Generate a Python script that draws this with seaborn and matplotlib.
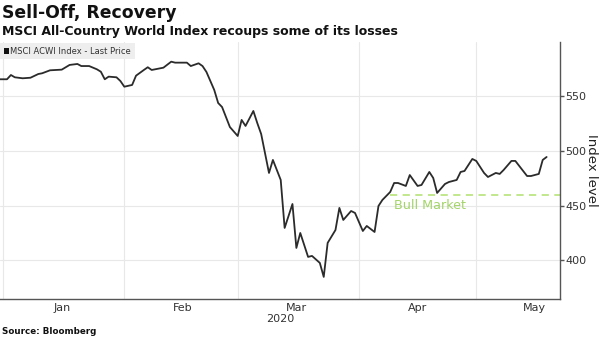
import matplotlib
matplotlib.use("Agg")
import matplotlib.pyplot as plt
import matplotlib.dates as mdates
import seaborn as sns
import pandas as pd

dates = [
    "2019-12-31", "2020-01-02", "2020-01-03", "2020-01-04", "2020-01-06", "2020-01-08",
    "2020-01-10", "2020-01-11", "2020-01-13", "2020-01-16", "2020-01-18", "2020-01-20",
    "2020-01-21", "2020-01-23", "2020-01-25", "2020-01-26", "2020-01-27", "2020-01-28",
    "2020-01-30", "2020-01-31", "2020-02-01", "2020-02-03", "2020-02-04", "2020-02-06",
    "2020-02-07", "2020-02-08", "2020-02-11", "2020-02-13", "2020-02-14", "2020-02-17",
    "2020-02-18", "2020-02-20", "2020-02-21", "2020-02-22", "2020-02-24", "2020-02-25",
    "2020-02-26", "2020-02-28", "2020-03-01", "2020-03-02", "2020-03-03", "2020-03-05",
    "2020-03-06", "2020-03-07", "2020-03-09", "2020-03-10", "2020-03-12", "2020-03-13",
    "2020-03-15", "2020-03-16", "2020-03-17", "2020-03-19", "2020-03-20", "2020-03-22",
    "2020-03-23", "2020-03-24", "2020-03-26", "2020-03-27", "2020-03-28", "2020-03-30",
    "2020-03-31", "2020-04-02", "2020-04-03", "2020-04-05", "2020-04-06", "2020-04-07",
    "2020-04-09", "2020-04-10", "2020-04-11", "2020-04-13", "2020-04-14", "2020-04-16",
    "2020-04-17", "2020-04-19", "2020-04-20", "2020-04-21", "2020-04-23", "2020-04-24",
    "2020-04-26", "2020-04-27", "2020-04-28", "2020-04-30", "2020-05-01", "2020-05-03",
    "2020-05-04", "2020-05-06", "2020-05-07", "2020-05-08", "2020-05-10", "2020-05-11",
    "2020-05-12", "2020-05-14", "2020-05-15", "2020-05-17", "2020-05-18", "2020-05-19",
]
values = [
    565.6, 565.6, 569.5, 567.4, 566.5, 567.0,
    570.4, 571.1, 573.8, 574.4, 578.7, 579.6,
    577.7, 577.7, 574.7, 572.5, 565.6, 568.0,
    567.4, 564.0, 558.8, 560.4, 568.9, 574.1,
    576.6, 574.1, 576.2, 581.7, 580.8, 580.8,
    577.7, 580.2, 577.7, 572.3, 555.8, 543.9,
    540.2, 521.9, 513.7, 528.4, 522.9, 536.6,
    525.6, 515.5, 479.9, 491.8, 473.5, 429.6,
    451.5, 411.3, 425.0, 403.1, 404.0, 397.6,
    384.8, 415.9, 427.7, 447.9, 436.9, 445.1,
    443.3, 426.8, 431.4, 425.9, 449.7, 455.2,
    462.5, 470.7, 470.7, 468.0, 478.0, 468.0,
    468.9, 480.8, 475.3, 461.6, 469.8, 471.6,
    473.5, 480.8, 481.7, 492.7, 490.9, 479.9,
    476.2, 479.9, 479.0, 482.6, 490.9, 490.9,
    486.3, 477.1, 477.1, 479.0, 491.8, 494.5,
]
y_ticks = [400, 450, 500, 550]
bull_level = 460
bull_start = "2020-04-09"
bull_label = "Bull Market"
series_name = "MSCI ACWI Index - Last Price"
title = "Sell-Off, Recovery"
subtitle = "MSCI All-Country World Index recoups some of its losses"
source = "Source: Bloomberg"
y_label = "Index level"
year_label = "2020"

df = pd.DataFrame({"date": pd.to_datetime(dates), "value": values})

sns.set_style("white")
plt.rcParams["font.family"] = ["DejaVu Sans"]

fig = plt.figure(figsize=(6.0, 3.37), dpi=100)
ax = fig.add_axes([0.0, 0.1128, 0.9333, 0.7626])

ax.grid(False)
sns.lineplot(data=df, x="date", y="value", ax=ax, color="#2b2b2b", linewidth=1.3)

x_left = pd.Timestamp("2019-12-31 05:00")
x_right = pd.Timestamp("2020-05-22 10:00")
ax.set_xlim(x_left, x_right)
ax.set_ylim(364.6, 599.7)

# bull market line
ax.plot([pd.Timestamp(bull_start), x_right], [bull_level, bull_level],
        linestyle=(0, (4, 3)), color="#bde584", linewidth=1.3, zorder=1)
ax.text(pd.Timestamp("2020-04-10"), bull_level - 4, bull_label, color="#a3d468",
        fontsize=9.2, va="top", ha="left")

# axes styling
for s in ["left", "top"]:
    ax.spines[s].set_visible(False)
for s in ["bottom", "right"]:
    ax.spines[s].set_color("#555555")
    ax.spines[s].set_linewidth(1.0)

ax.yaxis.tick_right()
ax.set_yticks(y_ticks)
ax.set_yticklabels([str(v) for v in y_ticks])
ax.tick_params(axis="y", which="major", length=3, width=1, color="#555555",
               labelsize=8, labelcolor="#333333", pad=1, right=True, left=False)
ax.set_ylabel("")
fig.text(592 / 600, 1 - 170 / 337, y_label, rotation=270, fontsize=9.5,
         color="#222222", ha="center", va="center")

ax.xaxis.set_major_locator(mdates.MonthLocator(bymonthday=1))
ax.xaxis.set_major_formatter(plt.NullFormatter())
ax.xaxis.set_minor_locator(mdates.MonthLocator(bymonthday=16))
ax.xaxis.set_minor_formatter(mdates.DateFormatter("%b"))
ax.tick_params(axis="x", which="major", length=3, width=1, color="#555555")
ax.tick_params(axis="x", which="minor", length=0, labelsize=8, labelcolor="#333333", pad=3)
ax.set_xlabel("")

ax.grid(True, which="major", color="#e8e8e8", linewidth=0.8)
ax.set_axisbelow(True)

# year label centered under axes
ax.text(0.5, -0.058, year_label, transform=ax.transAxes, ha="center", va="top",
        fontsize=8, color="#333333")

# legend box
fig.patches.append(plt.Rectangle((0.0, 1 - 59 / 337), 135 / 600, 16 / 337,
                                 transform=fig.transFigure, facecolor="#eeeeee",
                                 edgecolor="none", zorder=3))
fig.patches.append(plt.Rectangle((4 / 600, 1 - 54 / 337), 5 / 600, 6 / 337,
                                 transform=fig.transFigure, facecolor="#111111",
                                 edgecolor="none", zorder=4))
fig.text(10 / 600, 1 - 51 / 337, series_name, fontsize=6.0, color="#333333",
         va="center", ha="left", zorder=5)

fig.text(2 / 600, 1 - 13 / 337, title, fontsize=12.4, fontweight="bold",
         color="#111111", va="center", ha="left")
fig.text(2 / 600, 1 - 31 / 337, subtitle, fontsize=9.0, fontweight="bold",
         color="#111111", va="center", ha="left")
fig.text(2 / 600, 1 - 331 / 337, source, fontsize=6.3, fontweight="bold",
         color="#111111", va="center", ha="left")

fig.savefig("out.png", dpi=100, facecolor="white")
